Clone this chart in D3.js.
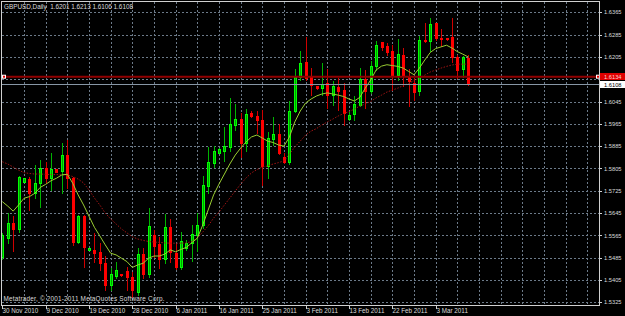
<!DOCTYPE html>
<html><head><meta charset="utf-8">
<script src="https://cdn.jsdelivr.net/npm/d3@7"></script>
<style>html,body{margin:0;padding:0;background:#000;overflow:hidden}svg{display:block}</style>
</head><body><svg id="c" width="625" height="316"></svg>
<script>
// ---- data ----
const open=[1.5487,1.5556,1.5608,1.5587,1.5757,1.5766,1.5716,1.5754,1.5806,1.5770,
1.5802,1.5797,1.5853,1.5770,1.5542,1.5634,1.5513,1.5513,1.5504,1.5467,
1.5387,1.5420,1.5425,1.5438,1.5417,1.5363,1.5498,1.5426,1.5566,1.5534,
1.5479,1.5594,1.5501,1.5453,1.5519,1.5537,1.5566,1.5602,1.5743,1.5826,
1.5862,1.5869,1.5883,1.5961,1.5982,1.5897,1.6005,1.5993,1.5979,1.5814,
1.5910,1.5929,1.5847,1.5829,1.6012,1.6132,1.6185,1.6132,1.6100,1.6094,
1.6112,1.6070,1.6097,1.6087,1.5983,1.6000,1.6034,1.6127,1.6084,1.6171,
1.6259,1.6243,1.6225,1.6141,1.6211,1.6138,1.6112,1.6082,1.6267,1.6263,
1.6326,1.6273,1.6272,1.6275,1.6204,1.6161,1.6201];
const high=[1.5574,1.5645,1.5634,1.5778,1.5771,1.5775,1.5817,1.5835,1.5829,1.5859,
1.5803,1.5895,1.5907,1.5775,1.5638,1.5638,1.5521,1.5575,1.5537,1.5491,
1.5447,1.5471,1.5426,1.5453,1.5435,1.5519,1.5519,1.5662,1.5584,1.5560,
1.5642,1.5623,1.5534,1.5577,1.5548,1.5602,1.5644,1.5778,1.5883,1.5886,
1.5877,1.5953,1.6057,1.6036,1.6003,1.6017,1.6011,1.6012,1.6015,1.5937,
1.5988,1.5964,1.5859,1.6048,1.6161,1.6227,1.6276,1.6165,1.6102,1.6183,
1.6162,1.6118,1.6129,1.6112,1.6007,1.6064,1.6165,1.6159,1.6189,1.6263,
1.6260,1.6254,1.6249,1.6270,1.6237,1.6163,1.6129,1.6279,1.6328,1.6345,
1.6327,1.6305,1.6273,1.6343,1.6212,1.6208,1.6213];
const low=[1.5480,1.5538,1.5510,1.5578,1.5756,1.5656,1.5698,1.5668,1.5752,1.5728,
1.5792,1.5716,1.5734,1.5531,1.5537,1.5453,1.5511,1.5471,1.5441,1.5369,
1.5369,1.5411,1.5419,1.5369,1.5345,1.5351,1.5411,1.5417,1.5489,1.5447,
1.5465,1.5471,1.5443,1.5443,1.5513,1.5474,1.5510,1.5590,1.5716,1.5811,
1.5859,1.5833,1.5869,1.5943,1.5847,1.5869,1.5990,1.5931,1.5746,1.5770,
1.5889,1.5857,1.5824,1.5821,1.6009,1.6122,1.6124,1.6068,1.6090,1.6067,
1.6022,1.6034,1.6016,1.5962,1.5979,1.5980,1.6028,1.6022,1.6076,1.6159,
1.6231,1.6213,1.6087,1.6123,1.6100,1.6029,1.6050,1.6068,1.6257,1.6228,
1.6266,1.6244,1.6266,1.6187,1.6128,1.6134,1.6106];
const close=[1.5566,1.5609,1.5588,1.5773,1.5770,1.5716,1.5754,1.5806,1.5770,1.5802,
1.5793,1.5853,1.5770,1.5542,1.5634,1.5524,1.5519,1.5503,1.5467,1.5387,
1.5426,1.5441,1.5422,1.5415,1.5369,1.5498,1.5426,1.5599,1.5527,1.5479,
1.5594,1.5506,1.5453,1.5546,1.5537,1.5570,1.5602,1.5746,1.5829,1.5869,
1.5874,1.5886,1.5964,1.5981,1.5897,1.6000,1.5993,1.5979,1.5814,1.5913,
1.5929,1.5859,1.5829,1.6012,1.6132,1.6184,1.6131,1.6104,1.6094,1.6109,
1.6070,1.6100,1.6082,1.6004,1.5996,1.6036,1.6127,1.6082,1.6171,1.6247,
1.6240,1.6223,1.6141,1.6215,1.6135,1.6118,1.6079,1.6267,1.6261,1.6323,
1.6272,1.6269,1.6268,1.6204,1.6158,1.6204,1.6108];
const maFast=[1.5686,1.5670,1.5652,1.5674,1.5698,1.5704,1.5716,1.5737,1.5748,1.5761,
1.5770,1.5782,1.5784,1.5752,1.5710,1.5674,1.5634,1.5594,1.5563,1.5531,
1.5501,1.5495,1.5483,1.5471,1.5450,1.5459,1.5465,1.5483,1.5491,1.5491,
1.5498,1.5513,1.5506,1.5515,1.5522,1.5539,1.5555,1.5602,1.5656,1.5710,
1.5749,1.5785,1.5821,1.5853,1.5878,1.5900,1.5918,1.5925,1.5914,1.5903,
1.5898,1.5889,1.5885,1.5918,1.5972,1.6011,1.6040,1.6054,1.6065,1.6072,
1.6076,1.6072,1.6068,1.6063,1.6054,1.6047,1.6060,1.6093,1.6122,1.6158,
1.6172,1.6177,1.6174,1.6171,1.6165,1.6153,1.6141,1.6165,1.6194,1.6221,
1.6235,1.6241,1.6247,1.6237,1.6224,1.6215,1.6205];
const maSlow=[1.5829,1.5821,1.5810,1.5799,1.5790,1.5787,1.5785,1.5785,1.5784,1.5783,
1.5783,1.5782,1.5782,1.5776,1.5767,1.5753,1.5728,1.5699,1.5674,1.5645,
1.5624,1.5606,1.5588,1.5574,1.5560,1.5552,1.5547,1.5543,1.5541,1.5540,
1.5538,1.5537,1.5537,1.5537,1.5538,1.5543,1.5556,1.5577,1.5599,1.5627,
1.5649,1.5674,1.5699,1.5724,1.5749,1.5771,1.5789,1.5801,1.5810,1.5814,
1.5821,1.5826,1.5832,1.5857,1.5882,1.5903,1.5925,1.5939,1.5948,1.5961,
1.5972,1.5982,1.5993,1.6002,1.6009,1.6018,1.6029,1.6036,1.6045,1.6058,
1.6068,1.6079,1.6086,1.6093,1.6102,1.6110,1.6120,1.6129,1.6140,1.6151,
1.6158,1.6165,1.6171,1.6176,1.6179,1.6179,1.6179];
const gridPrices=[1.6365,1.6285,1.6205,1.6125,1.6045,1.5965,1.5885,1.5805,1.5725,1.5645,1.5565,1.5485,1.5405,1.5325];
const priceLabels=["1.6365","1.6285","1.6205","1.6045","1.5965","1.5885","1.5805","1.5725","1.5645","1.5565","1.5485","1.5405","1.5325"];
const dateLabels=["30 Nov 2010","9 Dec 2010","19 Dec 2010","28 Dec 2010","6 Jan 2011","16 Jan 2011","25 Jan 2011","3 Feb 2011","13 Feb 2011","22 Feb 2011","3 Mar 2011"];
const dateBars=[0,8,16,24,32,40,48,56,64,72,80];
const hLinePrice=1.6134, bidPrice=1.6108;
const titleText="GBPUSD,Daily  1.6201 1.6213 1.6106 1.6108";
const copyText="Metatrader, \u00A9 2001-2011 MetaQuotes Software Corp.";

// ---- drawing ----
const svg=d3.select("#c");
const W=625,H=316;
const L=1,T=1,R=599,B=305;
const x=d3.scaleLinear().domain([0,110]).range([2.33,598.17]);
const y=d3.scaleLinear().domain([1.5325,1.6365]).range([302.3,12.3]);
const font="'Liberation Sans',Arial,sans-serif";
const txt="#dcdcdc";

svg.append("rect").attr("width",W).attr("height",H).attr("fill","#000");

// grid
const g=svg.append("g");
const vBars=d3.range(4,110,4);
g.selectAll("line.v").data(vBars).join("line")
  .attr("x1",d=>Math.round(x(d))+0.5).attr("x2",d=>Math.round(x(d))+0.5)
  .attr("y1",T+1).attr("y2",B)
  .attr("stroke","#6c7a89").attr("stroke-dasharray","2,2").attr("stroke-width",1);
g.selectAll("line.h").data(gridPrices).join("line")
  .attr("x1",L+1).attr("x2",R)
  .attr("y1",d=>Math.round(y(d))+0.5).attr("y2",d=>Math.round(y(d))+0.5)
  .attr("stroke","#6c7a89").attr("stroke-dasharray","2,2").attr("stroke-width",1);

// candles
const idx=d3.range(open.length);
const cg=svg.append("g");
idx.forEach(i=>{
  const cx=Math.round(x(i));
  const up=close[i]>=open[i];
  const yh=Math.round(y(high[i])), yl=Math.round(y(low[i]));
  cg.append("rect").attr("x",cx).attr("y",yh).attr("width",1).attr("height",Math.max(1,yl-yh+1))
    .attr("fill",up?"#00b400":"#d00000");
  const yt=Math.round(y(Math.max(open[i],close[i]))), yb=Math.round(y(Math.min(open[i],close[i])));
  const bh=Math.max(1,yb-yt+1);
  if(up){
    cg.append("rect").attr("x",cx-1).attr("y",yt).attr("width",3).attr("height",bh).attr("fill","#00ff00");
    if(bh>2) cg.append("rect").attr("x",cx).attr("y",yt+1).attr("width",1).attr("height",bh-2).attr("fill","#00a000");
  } else {
    cg.append("rect").attr("x",cx-1).attr("y",yt).attr("width",3).attr("height",bh).attr("fill","#ff0000");
  }
});

// moving averages
const lineGen=arr=>d3.line().x((d,i)=>x(i)).y(d=>y(d))(arr);
svg.append("path").attr("d",lineGen(maSlow)).attr("fill","none")
  .attr("stroke","#a01414").attr("stroke-width",1).attr("stroke-dasharray","1.5,1.5");
svg.append("path").attr("d",lineGen(maFast)).attr("fill","none")
  .attr("stroke","#9acd32").attr("stroke-width",1);

// horizontal line + bid line
const yH=y(hLinePrice), yBid=Math.round(y(bidPrice))+0.5;
svg.append("line").attr("x1",L).attr("x2",R).attr("y1",yH).attr("y2",yH)
  .attr("stroke","#900000").attr("stroke-width",2);
svg.append("line").attr("x1",L).attr("x2",R).attr("y1",yBid).attr("y2",yBid)
  .attr("stroke","#8796a5").attr("stroke-width",1);
[2,596].forEach(px=>{
  svg.append("rect").attr("x",px).attr("y",yH-2).attr("width",4).attr("height",4).attr("fill","#fff");
  svg.append("rect").attr("x",px+1).attr("y",yH-1).attr("width",2).attr("height",2).attr("fill","#e00000");
});

// frame
const fr=svg.append("g").attr("stroke","#d0d0d0").attr("stroke-width",1);
fr.append("line").attr("x1",L+0.5).attr("x2",L+0.5).attr("y1",T).attr("y2",B+1);
fr.append("line").attr("x1",L).attr("x2",R+1).attr("y1",T+0.5).attr("y2",T+0.5);
fr.append("line").attr("x1",R+0.5).attr("x2",R+0.5).attr("y1",T).attr("y2",B+1);
fr.append("line").attr("x1",L).attr("x2",R+1).attr("y1",B+0.5).attr("y2",B+0.5);

// right price axis
const labelPrices=priceLabels.map(Number);
svg.selectAll("line.rt").data(labelPrices).join("line")
  .attr("x1",R).attr("x2",R+3).attr("y1",d=>Math.round(y(d))+0.5).attr("y2",d=>Math.round(y(d))+0.5)
  .attr("stroke","#d0d0d0");
svg.selectAll("text.pl").data(priceLabels).join("text")
  .attr("x",604).attr("y",d=>y(+d)).attr("dy","0.35em")
  .attr("font-family",font).attr("font-size","6.2px").attr("fill",txt)
  .attr("textLength",17.5).attr("lengthAdjust","spacingAndGlyphs").text(d=>d);
// marker labels
svg.append("rect").attr("x",600).attr("y",yH-3.7).attr("width",25).attr("height",7).attr("fill","#e00000");
svg.append("text").attr("x",604).attr("y",yH).attr("dy","0.35em").attr("font-family",font)
  .attr("font-size","6.2px").attr("fill","#ffd0d0").attr("textLength",17.5).attr("lengthAdjust","spacingAndGlyphs")
  .text(hLinePrice.toFixed(4));
const bidTop=Math.max(yH+3.3,yBid-3.5);
svg.append("rect").attr("x",600).attr("y",bidTop).attr("width",25).attr("height",7).attr("fill","#ffffff");
svg.append("text").attr("x",604).attr("y",bidTop+3.5).attr("dy","0.35em").attr("font-family",font)
  .attr("font-size","6.2px").attr("fill","#000").attr("textLength",17.5).attr("lengthAdjust","spacingAndGlyphs")
  .text(bidPrice.toFixed(4));

// bottom date axis
svg.selectAll("line.bt").data(dateBars).join("line")
  .attr("x1",d=>Math.round(x(d))+0.5).attr("x2",d=>Math.round(x(d))+0.5)
  .attr("y1",B).attr("y2",B+4).attr("stroke","#d0d0d0");
svg.selectAll("text.dl").data(dateLabels).join("text")
  .attr("x",(d,i)=>Math.max(2,Math.round(x(dateBars[i]))+0.5)).attr("y",313)
  .attr("font-family",font).attr("font-size","6.3px").attr("fill",txt).text(d=>d);

// title and copyright
svg.append("text").attr("x",4).attr("y",9.3).attr("font-family",font).attr("font-size","6.4px")
  .attr("fill",txt).style("white-space","pre").attr("textLength",129).attr("lengthAdjust","spacing").text(titleText);
svg.append("text").attr("x",3.5).attr("y",300.5).attr("font-family",font).attr("font-size","6.4px")
  .attr("fill",txt).attr("textLength",161).attr("lengthAdjust","spacing").text(copyText);
</script></body></html>
